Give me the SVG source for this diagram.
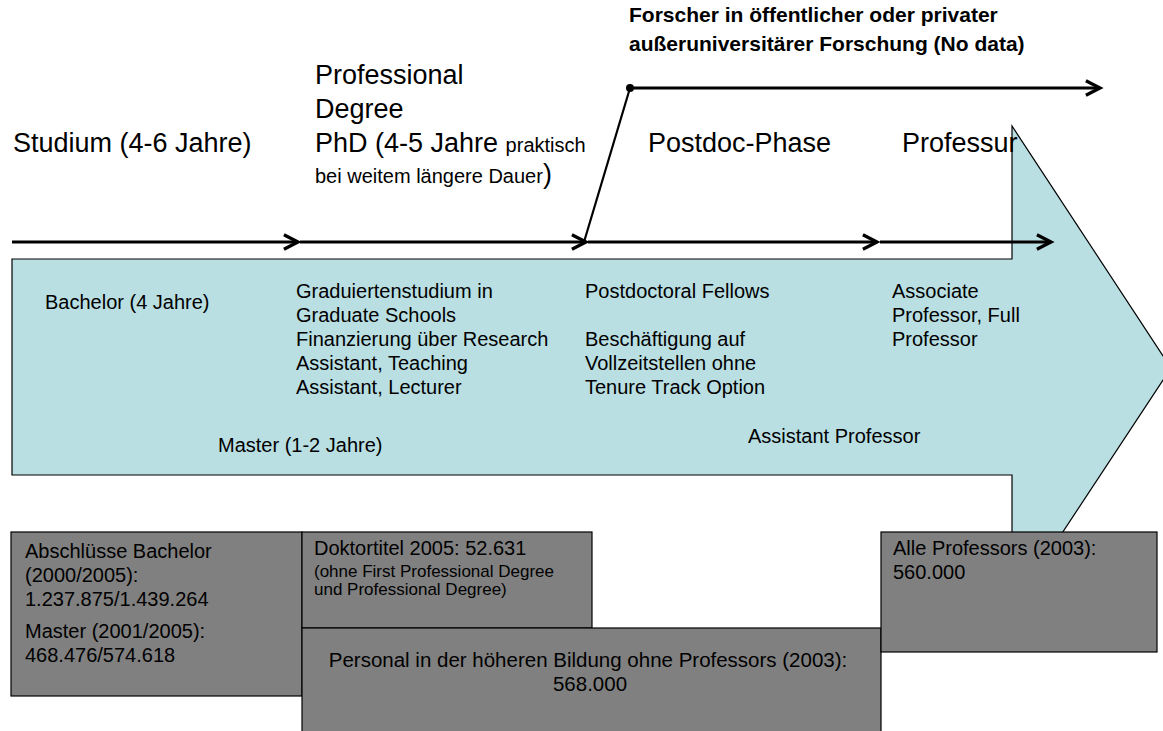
<svg xmlns="http://www.w3.org/2000/svg" width="1163" height="731" viewBox="0 0 1163 731">
<style>
text{font-family:"Liberation Sans",Arial,sans-serif;fill:#000}
.h{font-size:27px}
.b{font-size:20px}
.xs{font-size:17px}
.bold{font-size:21px;font-weight:bold}
.box{fill:#808080;stroke:#000;stroke-width:1.2}
.ln{stroke:#000;stroke-width:3;fill:none}
</style>
<defs>
<marker id="chev" markerWidth="8" markerHeight="8" refX="5" refY="3" orient="auto" markerUnits="strokeWidth" viewBox="0 0 8 6">
<path d="M0.3,0.6 L5,3 L0.3,5.4" fill="none" stroke="#000" stroke-width="1.1"/>
</marker>
</defs>
<rect width="1163" height="731" fill="#fff"/>
<g id="big-arrow">
<polygon points="12,259 1012,259 1012,126 1171,368 1012,609 1012,475 12,475" fill="#b9dfe3" stroke="#000" stroke-width="1.2"/>
</g>
<g id="connectors">
<line class="ln" x1="12" y1="242" x2="298" y2="242" marker-end="url(#chev)"/>
<line class="ln" x1="300" y1="242" x2="586" y2="242" marker-end="url(#chev)"/>
<line class="ln" x1="588" y1="242" x2="877" y2="242" marker-end="url(#chev)"/>
<line class="ln" x1="880" y1="242" x2="1051" y2="242" marker-end="url(#chev)"/>
<line x1="630" y1="88" x2="584" y2="242" stroke="#000" stroke-width="2.2"/>
<line class="ln" x1="630" y1="88" x2="1100" y2="88" marker-end="url(#chev)"/>
<circle cx="630" cy="88" r="4" fill="#000"/>
</g>
<g id="header-forscher">
<text class="bold" x="629" y="22">Forscher in öffentlicher oder privater</text>
<text class="bold" x="629" y="51">außeruniversitärer Forschung (No data)</text>
</g>
<g id="header-professional">
<text class="h" x="315" y="84">Professional</text>
<text class="h" x="315" y="118">Degree</text>
</g>
<g id="header-studium"><text class="h" x="13" y="152">Studium (4-6 Jahre)</text></g>
<g id="header-phd">
<text x="315" y="152"><tspan class="h">PhD (4-5 Jahre </tspan><tspan class="b">praktisch</tspan></text>
<text x="315" y="183"><tspan class="b">bei weitem längere Dauer</tspan><tspan class="h">)</tspan></text>
</g>
<g id="header-postdoc"><text class="h" x="648" y="152">Postdoc-Phase</text></g>
<g id="header-professur"><text class="h" x="902" y="152">Professur</text></g>
<g id="body-bachelor"><text class="b" x="45" y="309">Bachelor (4 Jahre)</text></g>
<g id="body-graduate">
<text class="b" x="296" y="298">Graduiertenstudium in</text>
<text class="b" x="296" y="322">Graduate Schools</text>
<text class="b" x="296" y="346">Finanzierung über Research</text>
<text class="b" x="296" y="370">Assistant, Teaching</text>
<text class="b" x="296" y="394">Assistant, Lecturer</text>
</g>
<g id="body-postdoc">
<text class="b" x="585" y="298">Postdoctoral Fellows</text>
<text class="b" x="585" y="346">Beschäftigung auf</text>
<text class="b" x="585" y="370">Vollzeitstellen ohne</text>
<text class="b" x="585" y="394">Tenure Track Option</text>
</g>
<g id="body-associate">
<text class="b" x="892" y="298">Associate</text>
<text class="b" x="892" y="322">Professor, Full</text>
<text class="b" x="892" y="346">Professor</text>
</g>
<g id="body-master"><text class="b" x="218" y="452">Master (1-2 Jahre)</text></g>
<g id="body-assistant"><text class="b" x="748" y="443">Assistant Professor</text></g>
<g id="box-abschluesse">
<rect class="box" x="11" y="532" width="291" height="164"/>
<text class="b" x="25" y="558">Abschlüsse Bachelor</text>
<text class="b" x="25" y="582">(2000/2005):</text>
<text class="b" x="25" y="606">1.237.875/1.439.264</text>
<text class="b" x="25" y="638">Master (2001/2005):</text>
<text class="b" x="25" y="662">468.476/574.618</text>
</g>
<g id="box-doktortitel">
<rect class="box" x="302" y="532" width="290" height="96"/>
<text class="b" x="314" y="555">Doktortitel 2005: 52.631</text>
<text class="xs" x="314" y="577">(ohne First Professional Degree</text>
<text class="xs" x="314" y="595">und Professional Degree)</text>
</g>
<g id="box-personal">
<rect class="box" x="302" y="628" width="579" height="110"/>
<text class="b" x="588" y="667" text-anchor="middle" style="font-size:20.5px">Personal in der höheren Bildung ohne Professors (2003):</text>
<text class="b" x="590" y="691" text-anchor="middle" style="font-size:20.5px">568.000</text>
</g>
<g id="box-alle">
<rect class="box" x="881" y="532" width="276" height="120"/>
<text class="b" x="893" y="555">Alle Professors (2003):</text>
<text class="b" x="893" y="579">560.000</text>
</g>
</svg>
